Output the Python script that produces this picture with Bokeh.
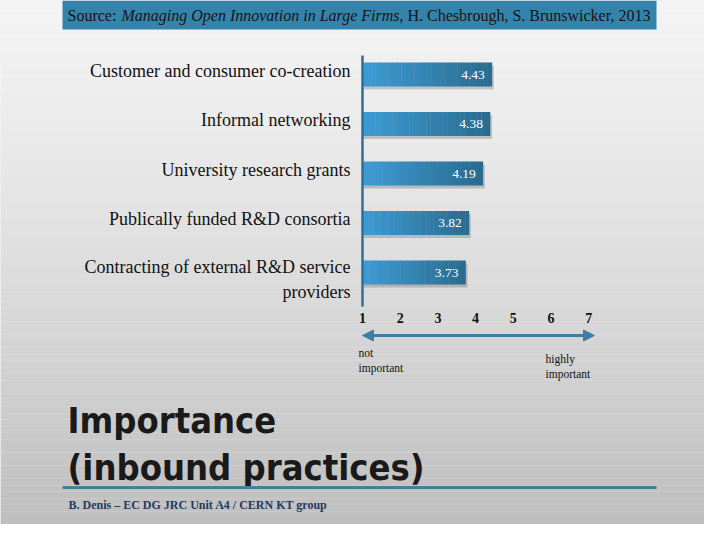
from bokeh.plotting import figure
from bokeh.models import Range1d, LinearAxis, FixedTicker, Arrow, NormalHead
from bokeh.core.properties import value
from bokeh.embed import file_html
from bokeh.resources import INLINE

# ---- data ----
categories = [
    "Customer and consumer co-creation",
    "Informal networking",
    "University research grants",
    "Publically funded R&D consortia",
    "Contracting of external R&D service\nproviders",
]
scores = [4.43, 4.38, 4.19, 3.82, 3.73]
tick_values = [1, 2, 3, 4, 5, 6, 7]
scale_low_label = "not\nimportant"
scale_high_label = "highly\nimportant"
source_parts = ["Source: ", "Managing Open Innovation in Large Firms", ", H. Chesbrough, S. Brunswicker, 2013"]
title_lines = ["Importance", "(inbound practices)"]
footer = "B. Denis \u2013 EC DG JRC Unit A4 / CERN KT group"

# ---- layout helpers (reference pixels -> data) ----
PX1, PPU = 362.0, 37.7      # x pixel of value 1, pixels per unit
PY0, PPC = 74.0, 49.5       # y pixel of first category, pixels per category
def fx(px): return 1 + (px - PX1) / PPU
def fy(py): return (py - PY0) / PPC

W, H = 704, 524
p = figure(width=W, height=H, output_backend="svg", toolbar_location=None,
           x_range=Range1d(fx(0), fx(W)), y_range=Range1d(fy(H), fy(0)),
           min_border=0, x_axis_type=None, y_axis_type=None)
p.outline_line_color = None
p.grid.visible = False
p.background_fill_color = "#e6e6e6"
p.border_fill_color = "#e6e6e6"

# background gradient
def lerp(c1, c2, t):
    return "#%02x%02x%02x" % tuple(int(round(a + (b - a) * t)) for a, b in zip(c1, c2))
nb = 80
tops, bots, cols = [], [], []
for i in range(nb):
    y0 = H * i / nb
    y1 = H * (i + 1) / nb
    tops.append(fy(y0)); bots.append(fy(y1))
    cols.append(lerp((0xf3, 0xf3, 0xf3), (0xbe, 0xbe, 0xbe), (i / (nb - 1)) ** 1.3))
p.quad(left=fx(0), right=fx(W), top=tops, bottom=bots, fill_color=cols, line_color=None)

# header banner
p.quad(left=fx(62), right=fx(656), top=fy(0), bottom=fy(29), fill_color="#3483aa", line_color=None)
serif = value("Liberation Serif")
src_x = [67, 121, 399]
src_sizes = ["16px", "16px", "16px"]
src_styles = ["normal", "italic", "normal"]
for txt, sx, fs, st in zip(source_parts, src_x, src_sizes, src_styles):
    p.text(x=[fx(sx)], y=[fy(15)], text=[txt], text_font=serif, text_font_size=fs,
           text_font_style=st, text_color="#151515", text_baseline="middle", text_align="left")

# bars
idx = list(range(len(categories)))
bar_h = 24 / PPC
p.hbar(y=[i + 3 / PPC for i in idx], left=fx(PX1 + 1), right=[s + 2 / PPU for s in scores],
       height=bar_h, fill_color="#000000", fill_alpha=0.18, line_color=None)
nseg = 30
c_light, c_dark = (0x3d, 0x9b, 0xd4), (0x2a, 0x6c, 0x90)
for k in range(nseg):
    lefts = [1 + (s - 1) * k / nseg for s in scores]
    rights = [1 + (s - 1) * (k + 1) / nseg + 0.01 for s in scores]
    p.hbar(y=idx, left=lefts, right=rights, height=bar_h,
           fill_color=lerp(c_light, c_dark, k / (nseg - 1)), line_color=None)
p.text(x=scores, y=idx, text=["%.2f" % s for s in scores], x_offset=-7,
       text_font=serif, text_font_size="13.5px", text_color="white",
       text_align="right", text_baseline="middle")

# category labels
lab_y = []
for i, c in enumerate(categories):
    n = c.count("\n")
    lab_y.append(i + (-4 + n * 11) / PPC)
p.text(x=fx(350), y=lab_y, text=categories, text_font=serif, text_font_size="18px",
       text_color="#111111", text_align="right", text_baseline="middle", text_line_height=1.25)

# vertical axis line
p.segment(x0=1, x1=1, y0=fy(55), y1=fy(306), line_color="#2e6f95", line_width=2.5)

# x axis tick labels (fixed location)
ax = LinearAxis(fixed_location=fy(306), ticker=FixedTicker(ticks=tick_values))
ax.axis_line_color = None
ax.major_tick_line_color = None
ax.minor_tick_line_color = None
ax.major_label_standoff = 0
ax.major_label_text_font = "Liberation Serif"
ax.major_label_text_font_style = "bold"
ax.major_label_text_font_size = "14px"
ax.major_label_text_color = "#111111"
p.add_layout(ax, "below")

# double arrow
acol = "#3a7fa6"
arr = Arrow(x_start=fx(362), x_end=fx(594), y_start=fy(335), y_end=fy(335),
            line_color=acol, line_width=3,
            start=NormalHead(size=11, fill_color=acol, line_color=acol),
            end=NormalHead(size=11, fill_color=acol, line_color=acol))
p.add_layout(arr)

p.text(x=[fx(358), fx(545)], y=[fy(346), fy(352)], text=[scale_low_label, scale_high_label],
       text_font=serif, text_font_size="11.5px", text_color="#111111",
       text_align="left", text_baseline="top", text_line_height=1.25)

# title
for t, by in zip(title_lines, [420, 467]):
    p.text(x=[fx(67)], y=[fy(by)], text=[t], text_font=value("DejaVu Sans Condensed"),
           text_font_style="bold", text_font_size="36px", text_color="#1a1a1a",
           text_align="left", text_baseline="alphabetic")

# rule + footer
p.segment(x0=fx(62), x1=fx(656), y0=fy(487), y1=fy(487), line_color="#45809f", line_width=3)
p.text(x=[fx(68)], y=[fy(504)], text=[footer], text_font=serif, text_font_style="bold",
       text_font_size="12px", text_color="#1f3a60", text_align="left", text_baseline="middle")

open("out.html", "w").write(file_html(p, INLINE))
